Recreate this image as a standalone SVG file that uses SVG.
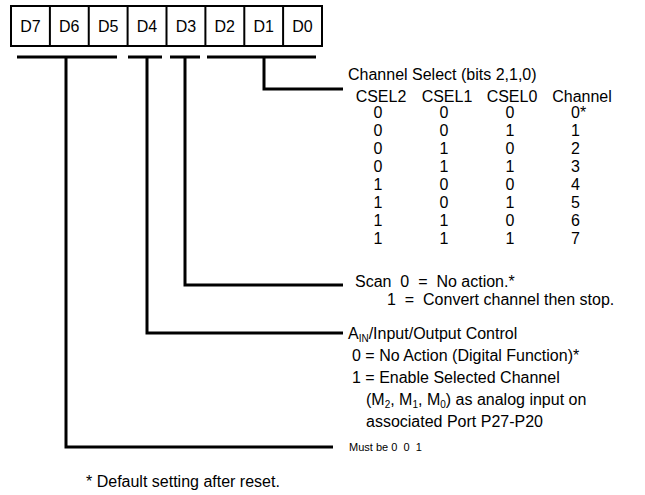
<svg xmlns="http://www.w3.org/2000/svg" width="645" height="495" viewBox="0 0 645 495">
<style>
text{font-family:"Liberation Sans",Arial,sans-serif;fill:#000;font-size:16px}
.c{text-anchor:middle}
.lb{font-size:16px;text-anchor:middle}
.ln{stroke:#000;stroke-width:3;fill:none}
.bx{stroke:#000;stroke-width:2;fill:#fff}
.sm{font-size:11px}
.sub{font-size:10px}
</style>
<rect width="645" height="495" fill="#fff"/>
<g id="register">
<rect class="bx" x="11" y="6" width="311" height="40"/>
<path d="M49.9 6V46M88.75 6V46M127.6 6V46M166.5 6V46M205.4 6V46M244.3 6V46M283.1 6V46" stroke="#000" stroke-width="2"/>
<text class="lb" x="30.5" y="32">D7</text>
<text class="lb" x="69.3" y="32">D6</text>
<text class="lb" x="108.2" y="32">D5</text>
<text class="lb" x="147" y="32">D4</text>
<text class="lb" x="186" y="32">D3</text>
<text class="lb" x="224.8" y="32">D2</text>
<text class="lb" x="263.7" y="32">D1</text>
<text class="lb" x="302.5" y="32">D0</text>
</g>
<g id="connectors">
<path class="ln" d="M17 57H117M66 57V447H333"/>
<path class="ln" d="M128 57H162M147 57V333H343"/>
<path class="ln" d="M170 57H200M185 57V285H343"/>
<path class="ln" d="M207 57H316M264 57V89H343"/>
</g>
<g id="channel-select">
<text x="348" y="80">Channel Select (bits 2,1,0)</text>
<text class="c" x="381" y="102">CSEL2</text>
<text class="c" x="447" y="102">CSEL1</text>
<text class="c" x="512" y="102">CSEL0</text>
<text class="c" x="582" y="102">Channel</text>
<text class="c" x="378" y="118">0</text><text class="c" x="444" y="118">0</text><text class="c" x="510" y="118">0</text><text x="571" y="118">0*</text>
<text class="c" x="378" y="136">0</text><text class="c" x="444" y="136">0</text><text class="c" x="510" y="136">1</text><text x="571" y="136">1</text>
<text class="c" x="378" y="154">0</text><text class="c" x="444" y="154">1</text><text class="c" x="510" y="154">0</text><text x="571" y="154">2</text>
<text class="c" x="378" y="172">0</text><text class="c" x="444" y="172">1</text><text class="c" x="510" y="172">1</text><text x="571" y="172">3</text>
<text class="c" x="378" y="190">1</text><text class="c" x="444" y="190">0</text><text class="c" x="510" y="190">0</text><text x="571" y="190">4</text>
<text class="c" x="378" y="208">1</text><text class="c" x="444" y="208">0</text><text class="c" x="510" y="208">1</text><text x="571" y="208">5</text>
<text class="c" x="378" y="226">1</text><text class="c" x="444" y="226">1</text><text class="c" x="510" y="226">0</text><text x="571" y="226">6</text>
<text class="c" x="378" y="244">1</text><text class="c" x="444" y="244">1</text><text class="c" x="510" y="244">1</text><text x="571" y="244">7</text>
</g>
<g id="scan">
<text x="355" y="287" xml:space="preserve">Scan  0  =  No action.*</text>
<text x="387" y="305" xml:space="preserve">1  =  Convert channel then stop.</text>
</g>
<g id="ain-control">
<text x="348" y="339">A<tspan class="sub" dy="3">IN</tspan><tspan dy="-3">/Input/Output Control</tspan></text>
<text x="352" y="361">0 = No Action (Digital Function)*</text>
<text x="352" y="383">1 = Enable Selected Channel</text>
<text x="366" y="405">(M<tspan class="sub" dy="3">2</tspan><tspan dy="-3">, M</tspan><tspan class="sub" dy="3">1</tspan><tspan dy="-3">, M</tspan><tspan class="sub" dy="3">0</tspan><tspan dy="-3">) as analog input on</tspan></text>
<text x="366" y="427">associated Port P27-P20</text>
</g>
<g id="must-be">
<text class="sm" x="349" y="451" xml:space="preserve">Must be 0  0  1</text>
</g>
<g id="footnote">
<text x="86" y="487">* Default setting after reset.</text>
</g>
</svg>
